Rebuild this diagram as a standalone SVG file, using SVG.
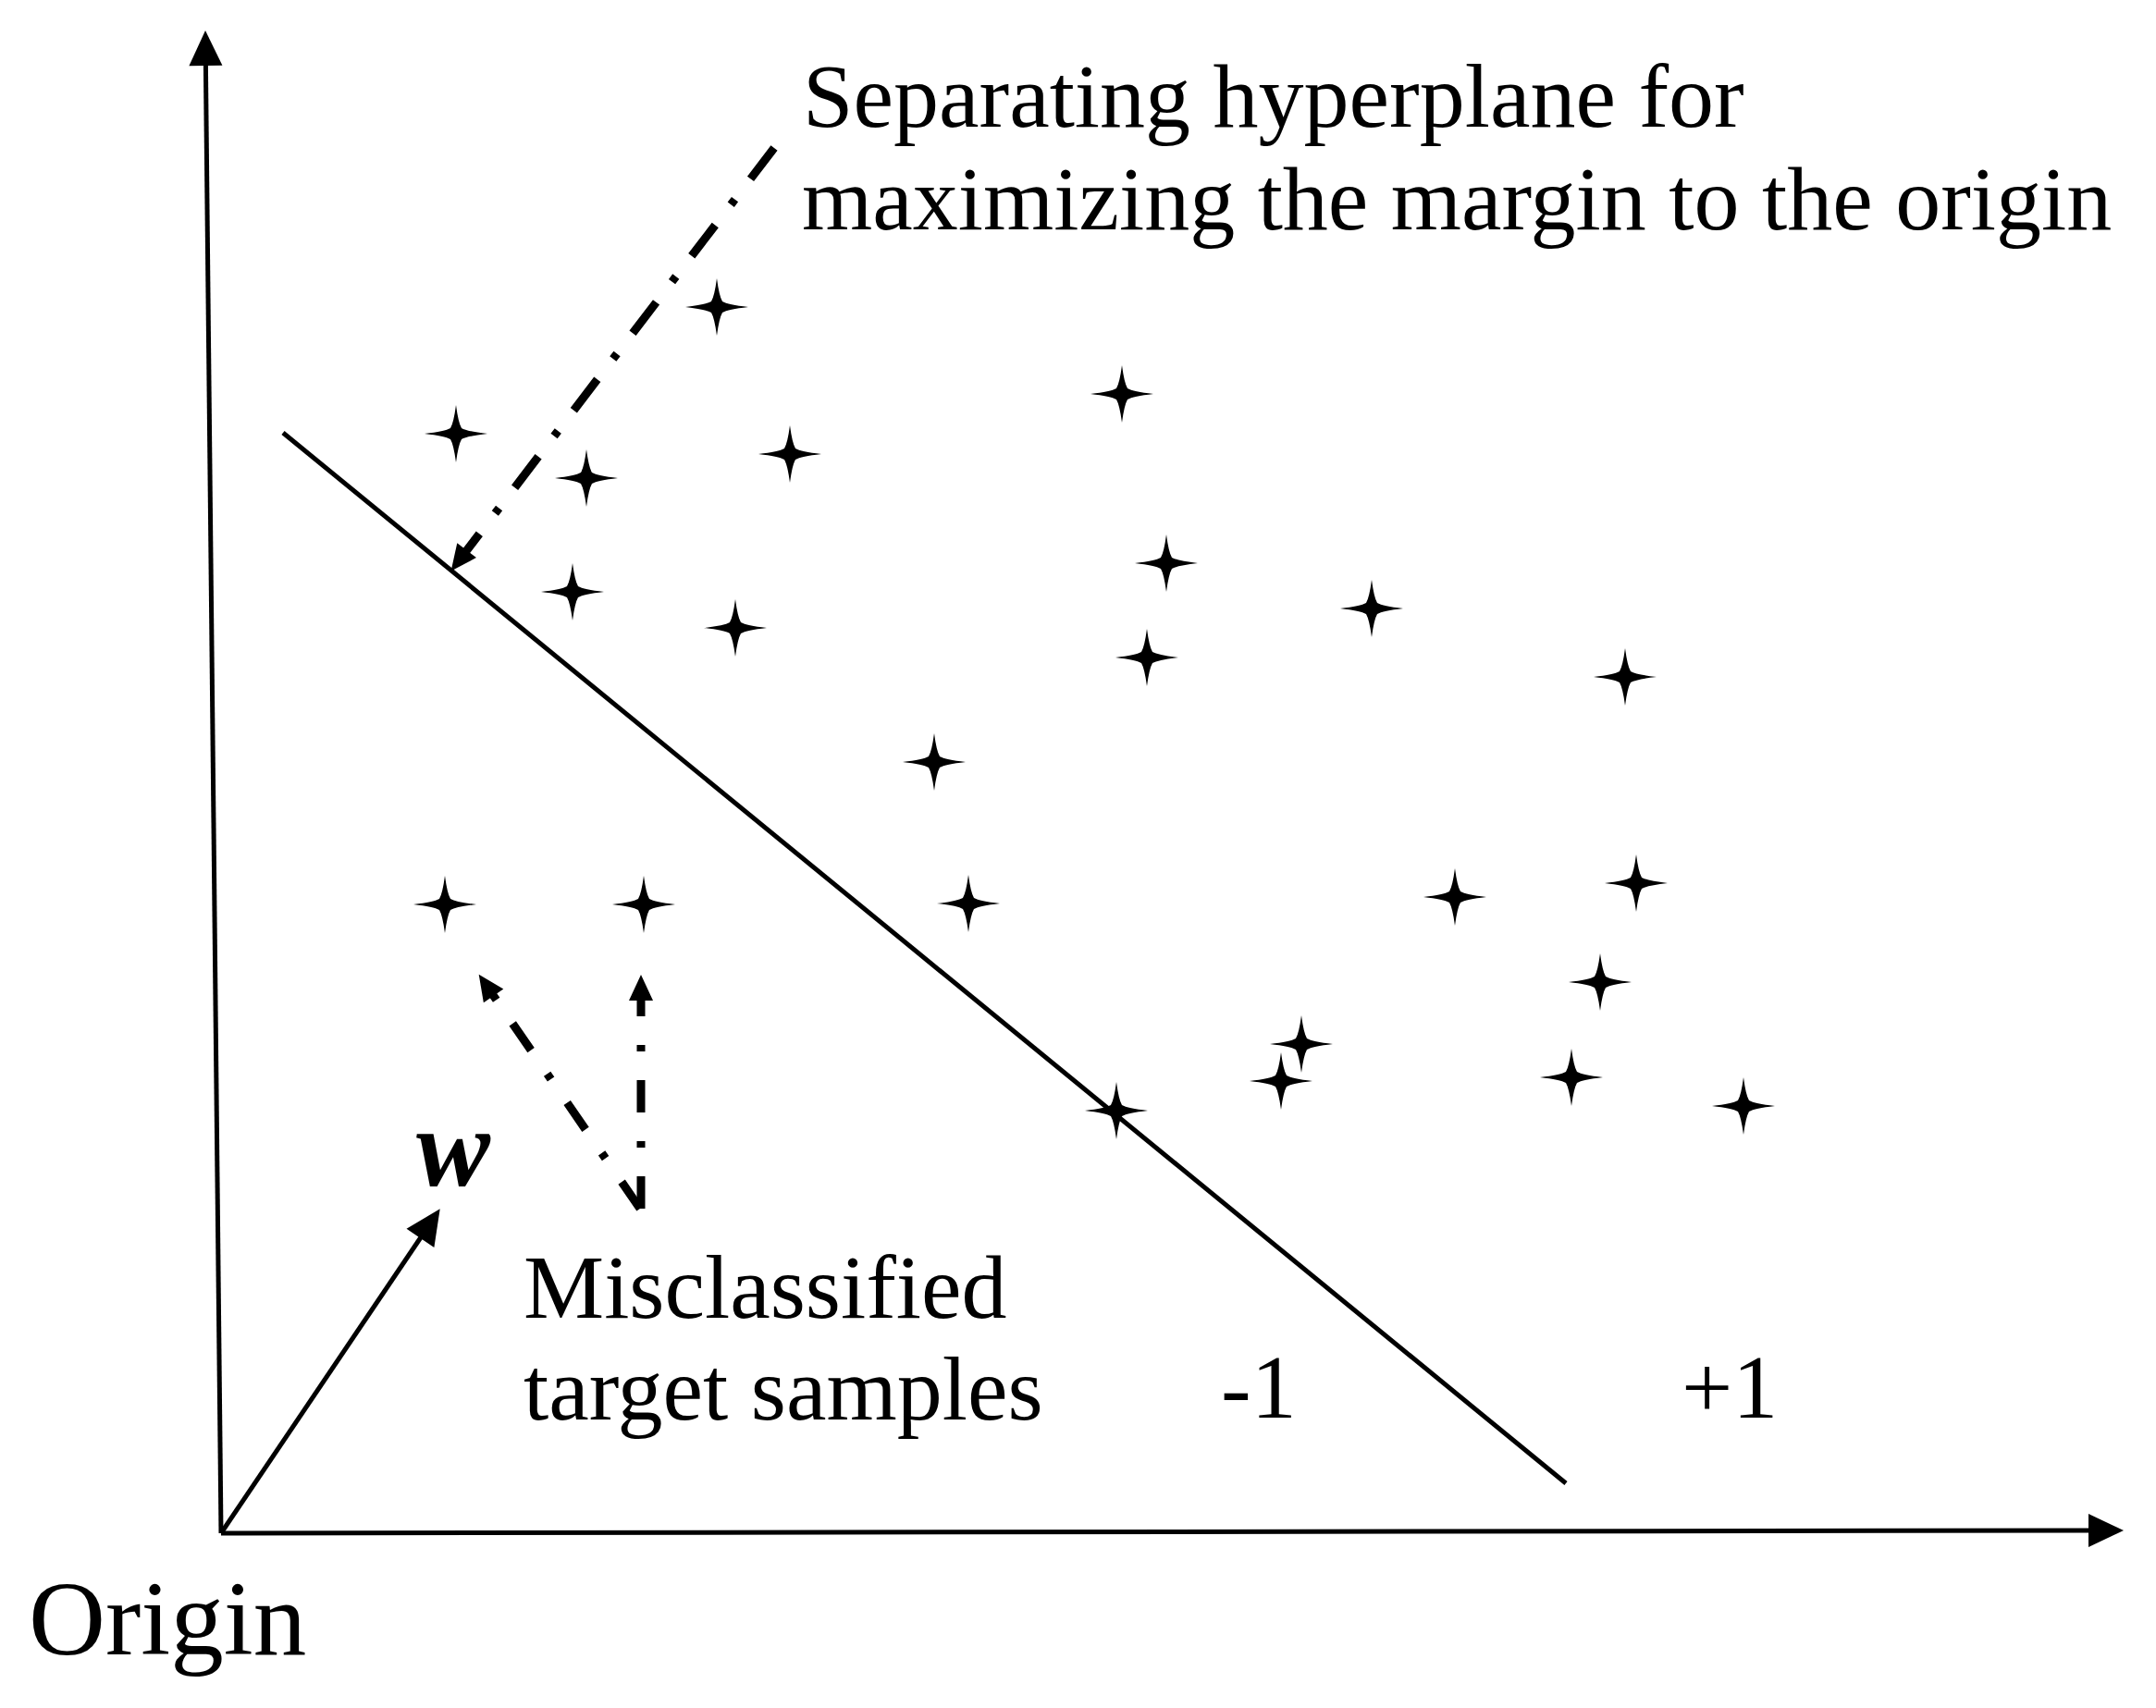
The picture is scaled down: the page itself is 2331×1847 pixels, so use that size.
<svg xmlns="http://www.w3.org/2000/svg" xmlns:xlink="http://www.w3.org/1999/xlink" width="2331" height="1847" viewBox="0 0 2331 1847">
<style>
.ln{stroke:#000;stroke-width:5;fill:none}
.dd{stroke:#000;stroke-width:9;fill:none}
.t{font-family:"Liberation Serif","Times New Roman",serif;font-size:98px;fill:#000}
.pt{fill:#000}
</style>
<defs>
<marker id="big" markerUnits="userSpaceOnUse" viewBox="-2 -20 42 40" markerWidth="42" markerHeight="40" refX="1" refY="0" orient="auto"><path d="M38,0 L0,-18 L0,18 Z" fill="#000"/></marker>
<marker id="small" markerUnits="userSpaceOnUse" viewBox="-2 -16 32 32" markerWidth="32" markerHeight="32" refX="1" refY="0" orient="auto"><path d="M28,0 L0,-13 L0,13 Z" fill="#000"/></marker>
<path id="star" d="M-34,0 Q-12,-2.5 -6,-6 Q-2.5,-12 0,-31 Q2.5,-12 6,-6 Q12,-2.5 34,0 Q12,2.5 6,6 Q2.5,12 0,31 Q-2.5,12 -6,6 Q-12,2.5 -34,0 Z"/>
</defs>
<rect width="2331" height="1847" fill="#fff"/>
<g id="connectors">
<path class="ln" d="M239,1658 L222.4,70" marker-end="url(#big)"/>
<path class="ln" d="M239,1658 L2259,1655" marker-end="url(#big)"/>
<path class="ln" d="M239,1658 L455,1338" marker-end="url(#big)"/>
<path id="hyperplane" class="ln" d="M306,468 L1693,1604"/>
<path class="dd" d="M837,160 L504,596" stroke-dasharray="42 28 7 28" marker-end="url(#small)"/>
<path class="dd" d="M692,1307 L533,1076" stroke-dasharray="35 31 7 31" marker-end="url(#small)"/>
<path class="dd" d="M693,1307 L693,1081" stroke-dasharray="35 31 7 31" marker-end="url(#small)"/>
</g>
<g id="samples" class="pt">
<use id="s1" href="#star" x="775" y="332"/>
<use id="s2" href="#star" x="493" y="469"/>
<use id="s3" href="#star" x="634" y="517"/>
<use id="s4" href="#star" x="854" y="491"/>
<use id="s5" href="#star" x="1213" y="426"/>
<use id="s6" href="#star" x="619" y="640"/>
<use id="s7" href="#star" x="795" y="679"/>
<use id="s8" href="#star" x="1261" y="609"/>
<use id="s9" href="#star" x="1240" y="711"/>
<use id="s10" href="#star" x="1010" y="824"/>
<use id="s11" href="#star" x="481" y="978"/>
<use id="s12" href="#star" x="696" y="978"/>
<use id="s13" href="#star" x="1047" y="977"/>
<use id="s14" href="#star" x="1207" y="1201"/>
<use id="s15" href="#star" x="1483" y="658"/>
<use id="s16" href="#star" x="1757" y="732"/>
<use id="s17" href="#star" x="1573" y="970"/>
<use id="s18" href="#star" x="1769" y="955"/>
<use id="s19" href="#star" x="1730" y="1062"/>
<use id="s20" href="#star" x="1407" y="1129"/>
<use id="s21" href="#star" x="1385" y="1169"/>
<use id="s22" href="#star" x="1699" y="1165"/>
<use id="s23" href="#star" x="1885" y="1196"/>
</g>
<g id="label-hyperplane">
<text class="t" x="868" y="137">Separating hyperplane for</text>
<text class="t" x="867" y="248">maximizing the margin to the origin</text>
</g>
<g id="label-misclassified">
<text class="t" x="566" y="1425">Misclassified</text>
<text class="t" x="566" y="1535">target samples</text>
</g>
<g id="label-minus"><text class="t" x="1320" y="1533">-1</text></g>
<g id="label-plus"><text class="t" x="1818" y="1533">+1</text></g>
<g id="label-origin"><text class="t" x="31" y="1789" style="font-size:115px">Origin</text></g>
<g id="label-w"><text class="t" x="450" y="1282" style="font-size:120px;font-weight:bold;font-style:italic">w</text></g>
</svg>
